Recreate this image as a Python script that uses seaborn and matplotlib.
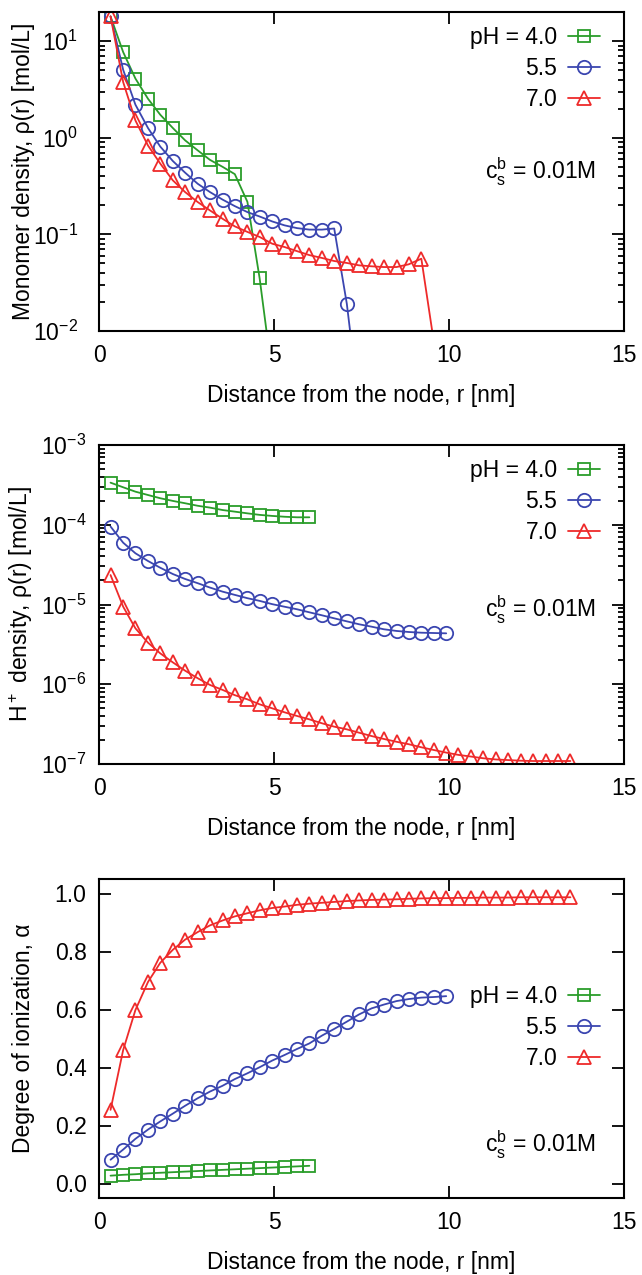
import numpy as np
import pandas as pd
import matplotlib
matplotlib.use("Agg")
import matplotlib.pyplot as plt
from matplotlib.ticker import LogLocator, NullFormatter, MultipleLocator, NullLocator
import seaborn as sns

# radial grid the profiles are sampled on [nm]
r_grid = [0.33, 0.69, 1.04, 1.40, 1.75, 2.11, 2.46, 2.82, 3.17, 3.53,
          3.88, 4.24, 4.59, 4.95, 5.30, 5.66, 6.01, 6.37, 6.72, 7.08,
          7.43, 7.79, 8.14, 8.50, 8.85, 9.21, 9.56, 9.92, 10.27, 10.63,
          10.98, 11.34, 11.69, 12.05, 12.40, 12.76, 13.11, 13.47]

ph_labels = ["pH = 4.0", "5.5", "7.0"]

# monomer density [mol/L] (last point of each series falls below the axis)
mono_ph40 = [18.0, 7.7, 4.1, 2.53, 1.73, 1.26, 0.94, 0.74, 0.59, 0.50,
             0.42, 0.217, 0.035, 0.0035]
mono_ph55 = [18.0, 5.05, 2.2, 1.26, 0.81, 0.574, 0.435, 0.334, 0.274, 0.229,
             0.196, 0.170, 0.153, 0.136, 0.124, 0.116, 0.112, 0.112, 0.115,
             0.0192, 0.0017]
mono_ph70 = [18.0, 3.77, 1.51, 0.83, 0.54, 0.362, 0.274, 0.216, 0.177, 0.145,
             0.121, 0.106, 0.094, 0.080, 0.074, 0.067, 0.061, 0.057, 0.053,
             0.0506, 0.0478, 0.0467, 0.0459, 0.0459, 0.0490, 0.056, 0.008]

# H+ density [mol/L]
hplus_ph40 = [3.37e-4, 2.95e-4, 2.60e-4, 2.36e-4, 2.15e-4, 1.99e-4, 1.86e-4,
              1.73e-4, 1.64e-4, 1.53e-4, 1.46e-4, 1.39e-4, 1.33e-4, 1.29e-4,
              1.26e-4, 1.24e-4, 1.24e-4]
hplus_ph55 = [9.5e-5, 5.96e-5, 4.39e-5, 3.51e-5, 2.89e-5, 2.41e-5, 2.09e-5,
              1.85e-5, 1.63e-5, 1.45e-5, 1.32e-5, 1.20e-5, 1.11e-5, 1.01e-5,
              9.38e-6, 8.71e-6, 7.98e-6, 7.32e-6, 6.71e-6, 6.15e-6, 5.65e-6,
              5.27e-6, 4.89e-6, 4.66e-6, 4.52e-6, 4.43e-6, 4.39e-6, 4.35e-6]
hplus_ph70 = [2.34e-5, 9.4e-6, 5.03e-6, 3.32e-6, 2.44e-6, 1.88e-6, 1.48e-6,
              1.19e-6, 9.8e-7, 8.5e-7, 7.3e-7, 6.47e-7, 5.6e-7, 4.99e-7,
              4.45e-7, 4.0e-7, 3.63e-7, 3.24e-7, 2.94e-7, 2.72e-7, 2.47e-7,
              2.24e-7, 2.06e-7, 1.9e-7, 1.77e-7, 1.62e-7, 1.5e-7, 1.39e-7,
              1.30e-7, 1.24e-7, 1.18e-7, 1.14e-7, 1.12e-7, 1.10e-7, 1.09e-7,
              1.09e-7, 1.09e-7, 1.09e-7]

# degree of ionization
alpha_ph40 = [0.027, 0.030, 0.032, 0.035, 0.037, 0.039, 0.041, 0.043, 0.045,
              0.047, 0.049, 0.051, 0.053, 0.055, 0.057, 0.059, 0.061]
alpha_ph55 = [0.082, 0.117, 0.154, 0.186, 0.214, 0.241, 0.268, 0.294, 0.317,
              0.337, 0.360, 0.380, 0.401, 0.424, 0.443, 0.464, 0.483, 0.510,
              0.533, 0.558, 0.583, 0.604, 0.617, 0.629, 0.636, 0.641, 0.643,
              0.646]
alpha_ph70 = [0.254, 0.460, 0.598, 0.695, 0.761, 0.806, 0.841, 0.867, 0.890,
              0.907, 0.921, 0.932, 0.942, 0.950, 0.955, 0.961, 0.965, 0.968,
              0.971, 0.974, 0.976, 0.978, 0.979, 0.980, 0.982, 0.983, 0.984,
              0.984, 0.985, 0.985, 0.986, 0.986, 0.986, 0.987, 0.987, 0.987,
              0.987, 0.987]

colors = ["#2a9d2a", "#3b46b0", "#ee2a2a"]
markers = ["s", "o", "^"]
msizes = [9.3, 9.6, 10.2]

sns.set_theme(style="ticks")
plt.rcParams["font.family"] = ["Liberation Sans", "DejaVu Sans"]
plt.rcParams["mathtext.default"] = "regular"
plt.rcParams["axes.unicode_minus"] = False
for key in ["text.color", "axes.labelcolor", "xtick.color", "ytick.color",
            "xtick.labelcolor", "ytick.labelcolor"]:
    plt.rcParams[key] = "black"

FS = 16.5

fig = plt.figure(figsize=(6.42, 12.75), dpi=100)
left, width, height = 99 / 642, 525 / 642, 319 / 1275
bottoms = [1 - 331 / 1275, 1 - 764 / 1275, 1 - 1198 / 1275]


def draw_panel(ax, series, ylabel, logy, ylim, legend_y, cs_y, ytickpad):
    for (vals, lab), c, m, ms in zip(series, colors, markers, msizes):
        df = pd.DataFrame({"r": r_grid[:len(vals)], "v": vals})
        sns.lineplot(data=df, x="r", y="v", ax=ax, color=c, marker=m,
                     markersize=ms, markerfacecolor="none",
                     markeredgecolor=c, markeredgewidth=1.3, linewidth=1.3,
                     label=lab, errorbar=None)
    if logy:
        ax.set_yscale("log")
        ax.yaxis.set_major_locator(LogLocator(base=10, numticks=20))
        ax.yaxis.set_minor_locator(LogLocator(base=10, subs=np.arange(2, 10), numticks=20))
        ax.yaxis.set_minor_formatter(NullFormatter())
    else:
        ax.yaxis.set_major_locator(MultipleLocator(0.2))
        ax.yaxis.set_major_formatter(matplotlib.ticker.FormatStrFormatter("%.1f"))
        ax.yaxis.set_minor_locator(NullLocator())
    ax.set_ylim(*ylim)
    ax.set_xlim(0, 15)
    ax.xaxis.set_major_locator(MultipleLocator(5))
    ax.xaxis.set_minor_locator(NullLocator())
    ax.tick_params(which="both", direction="in", top=True, right=True,
                   labelsize=FS, width=1.3, color="black")
    ax.tick_params(which="major", length=8.5)
    ax.tick_params(which="minor", length=4.5)
    ax.tick_params(axis="x", pad=9.5)
    ax.tick_params(axis="y", pad=ytickpad)
    for s in ax.spines.values():
        s.set_linewidth(1.5)
        s.set_color("black")
    ax.set_xlabel("Distance from the node, r [nm]", fontsize=FS, labelpad=12)
    ax.set_ylabel(ylabel, fontsize=FS)
    ax.yaxis.set_label_coords(-0.122, 0.5)
    ax.legend(loc="upper right", bbox_to_anchor=(0.954, legend_y),
              frameon=False, markerfirst=False, fontsize=FS,
              handlelength=1.4, handletextpad=0.45, labelspacing=0.35,
              borderpad=0, borderaxespad=0)
    ax.text(0.947, cs_y, "c$_s^b$ = 0.01M", transform=ax.transAxes,
            ha="right", va="center", fontsize=FS)


ax1 = fig.add_axes([left, bottoms[0], width, height])
draw_panel(ax1, list(zip([mono_ph40, mono_ph55, mono_ph70], ph_labels)),
           "Monomer density, ρ(r) [mol/L]", True, (0.01, 20), 0.955, 0.498, 15)

ax2 = fig.add_axes([left, bottoms[1], width, height])
draw_panel(ax2, list(zip([hplus_ph40, hplus_ph55, hplus_ph70], ph_labels)),
           "H$^+$ density, ρ(r) [mol/L]", True, (1e-7, 1e-3), 0.955, 0.483, 9)

ax3 = fig.add_axes([left, bottoms[2], width, height])
draw_panel(ax3, list(zip([alpha_ph40, alpha_ph55, alpha_ph70], ph_labels)),
           "Degree of ionization, α", False, (-0.05, 1.05), 0.668, 0.166, 9)

fig.savefig("out.png", dpi=100)
